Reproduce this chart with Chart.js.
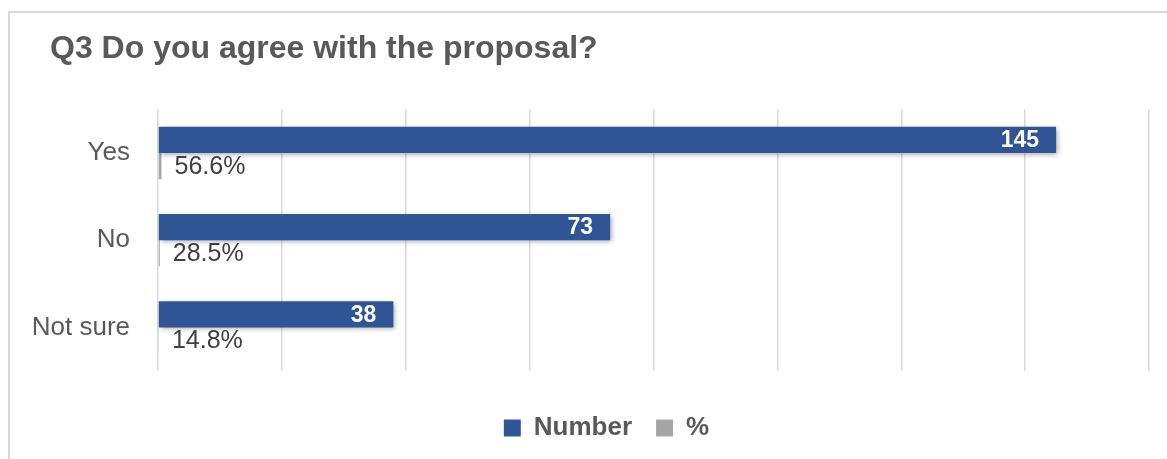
<!DOCTYPE html>
<html>
<head>
<meta charset="utf-8">
<script src="https://cdn.jsdelivr.net/npm/chart.js@4/dist/chart.umd.min.js"></script>
<style>
  html, body { margin: 0; padding: 0; background: #fff; overflow: hidden; }
  #frame { position: absolute; left: 8px; top: 11px; width: 1200px; height: 500px;
           border-top: 2px solid #d9d9d9; border-left: 2px solid #d9d9d9; }
  #wrap { position: absolute; left: 0; top: 0; width: 1167px; height: 459px; }
</style>
</head>
<body>
<div id="frame"></div>
<div id="wrap"><canvas id="chart"></canvas></div>
<script>
// Q3 survey results
const categories = ["Yes", "No", "Not sure"];
const numberValues = [145, 73, 38];
const percentValues = [56.6, 28.5, 14.8];   // shown as labels, bar length = fraction
const percentBars = percentValues.map(v => v / 100);
const axisMax = 160;
const axisStep = 20;

const BLUE = "#2F5597";
const GRAY = "#A5A5A5";
const TEXT = "#595959";
const FONT = "'Liberation Sans', Arial, sans-serif";

// nudge title / legend to where the original sits
const layoutPlugin = {
  id: "nudge",
  afterLayout(chart) {
    if (chart.titleBlock) chart.titleBlock.left = 50;
    if (chart.legend) {
      chart.legend.left += 22;
      chart.legend.right += 22;
    }
  }
};

// bar shadow + value labels
const labelPlugin = {
  id: "barLabels",
  beforeDatasetDraw(chart, args) {
    if (args.index !== 0) return;
    const ctx = chart.ctx;
    ctx.save();
    ctx.shadowColor = "rgba(0,0,0,0.35)";
    ctx.shadowBlur = 5;
    ctx.shadowOffsetX = 2;
    ctx.shadowOffsetY = 2;
  },
  afterDatasetDraw(chart, args) {
    if (args.index === 0) chart.ctx.restore();
  },
  afterDatasetsDraw(chart) {
    const ctx = chart.ctx;
    ctx.save();
    ctx.textBaseline = "middle";

    chart.getDatasetMeta(0).data.forEach((bar, i) => {
      ctx.font = "bold 23px " + FONT;
      ctx.fillStyle = "#fff";
      ctx.textAlign = "right";
      ctx.fillText(String(numberValues[i]), bar.x - 17, bar.y + 1);
    });

    chart.getDatasetMeta(1).data.forEach((bar, i) => {
      ctx.font = "25px " + FONT;
      ctx.fillStyle = "#404040";
      ctx.textAlign = "left";
      ctx.fillText(percentValues[i].toFixed(1) + "%", bar.x + 13, bar.y + 1);
    });
    ctx.restore();
  }
};

new Chart(document.getElementById("chart"), {
  type: "bar",
  data: {
    labels: categories,
    datasets: [
      { label: "Number", data: numberValues, backgroundColor: BLUE,
        categoryPercentage: 0.6, barPercentage: 1.0 },
      { label: "%", data: percentBars, backgroundColor: GRAY,
        categoryPercentage: 0.6, barPercentage: 1.0 }
    ]
  },
  options: {
    indexAxis: "y",
    responsive: true,
    maintainAspectRatio: false,
    animation: false,
    layout: { padding: { left: 20, right: 18, top: 0, bottom: 8 } },
    plugins: {
      tooltip: { enabled: false },
      title: {
        display: true,
        text: "Q3 Do you agree with the proposal?",
        align: "start",
        color: TEXT,
        font: { family: FONT, size: 32, weight: "bold" },
        padding: { top: 30, bottom: 41 }
      },
      legend: {
        position: "bottom",
        labels: {
          color: TEXT,
          font: { family: FONT, size: 26, weight: "bold" },
          boxWidth: 17,
          boxHeight: 17,
          padding: 24
        }
      }
    },
    scales: {
      x: {
        min: 0,
        max: axisMax,
        ticks: { display: false, stepSize: axisStep },
        grid: { color: "#D9D9D9", lineWidth: 1.5, drawTicks: false },
        border: { display: false },
        afterFit(scale) { scale.height = 20; }
      },
      y: {
        ticks: { color: TEXT, font: { family: FONT, size: 26 }, padding: 28 },
        grid: { display: false, drawTicks: false },
        border: { display: false },
        afterFit(scale) { scale.width = 138; }
      }
    }
  },
  plugins: [layoutPlugin, labelPlugin]
});
</script>
</body>
</html>
